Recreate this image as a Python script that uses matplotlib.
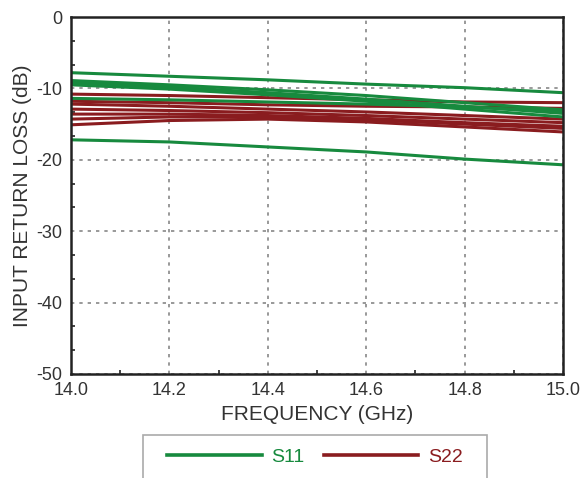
import matplotlib.pyplot as plt
from matplotlib.ticker import MultipleLocator
from matplotlib.patches import Rectangle
import numpy as np

plt.rcParams['font.family'] = ['Liberation Sans', 'DejaVu Sans']
plt.rcParams['axes.unicode_minus'] = False

# frequency points (GHz)
freq = [14.0, 14.2, 14.4, 14.6, 14.8, 15.0]

# S11 traces (dB)
s11_1 = [-7.8, -8.3, -8.8, -9.4, -9.9, -10.6]
s11_2 = [-8.9, -9.5, -10.2, -11.0, -12.0, -13.0]
s11_3 = [-9.2, -9.8, -10.6, -11.5, -12.5, -13.5]
s11_4 = [-9.5, -10.1, -10.9, -11.8, -12.9, -14.0]
s11_5 = [-11.4, -11.6, -11.9, -12.2, -12.6, -13.2]
s11_6 = [-17.2, -17.5, -18.2, -18.9, -19.9, -20.7]

# S22 traces (dB)
s22_1 = [-10.8, -11.0, -11.3, -11.6, -11.9, -12.0]
s22_2 = [-11.8, -12.0, -12.3, -12.5, -12.6, -12.8]
s22_3 = [-12.2, -12.5, -12.9, -13.3, -13.8, -14.3]
s22_4 = [-12.9, -13.1, -13.4, -13.8, -14.3, -14.8]
s22_5 = [-13.6, -13.6, -13.8, -14.2, -14.8, -15.3]
s22_6 = [-14.3, -14.0, -14.0, -14.4, -15.0, -15.6]
s22_7 = [-15.1, -14.5, -14.3, -14.7, -15.4, -16.1]

s11_all = [s11_1, s11_2, s11_3, s11_4, s11_5, s11_6]
s22_all = [s22_1, s22_2, s22_3, s22_4, s22_5, s22_6, s22_7]

green = '#178a3e'
red = '#8a1c1f'

fig = plt.figure(figsize=(5.87, 4.78), dpi=100)
ax = fig.add_axes([71/587, 1-374/478, 492/587, 357/478])

for i, tr in enumerate(s22_all):
    ax.plot(freq, tr, color=red, lw=2.2, label='S22' if i == 0 else None)
for i, tr in enumerate(s11_all):
    ax.plot(freq, tr, color=green, lw=2.2, label='S11' if i == 0 else None)

ax.set_xlim(14.0, 15.0)
ax.set_ylim(-50, 0)
ax.xaxis.set_major_locator(MultipleLocator(0.2))
ax.xaxis.set_minor_locator(MultipleLocator(0.1))
ax.yaxis.set_major_locator(MultipleLocator(10))
ax.yaxis.set_minor_locator(MultipleLocator(10/3))
ax.xaxis.set_major_formatter(plt.FormatStrFormatter('%.1f'))
ax.tick_params(which='both', direction='in', colors='#222222', labelcolor='#333333',
               labelsize=13, top=False, right=False)
ax.tick_params(axis='x', which='major', length=0, pad=6)
ax.tick_params(axis='y', which='major', length=0, pad=6)
ax.tick_params(which='minor', length=3, width=1.2)
ax.grid(True, which='major', color='#888888', linestyle=(0, (2, 3)), lw=1.2)
for sp in ax.spines.values():
    sp.set_linewidth(1.8)
    sp.set_color('#222222')

ax.set_xlabel('FREQUENCY (GHz)', fontsize=15, color='#333333', labelpad=4)
ax.set_ylabel('INPUT RETURN LOSS (dB)', fontsize=15, color='#333333', labelpad=3)

# legend box, runs off the bottom edge like the original
fig.patches.append(Rectangle((143/587, -0.02), 344/587, (478-435)/478 + 0.02,
                             transform=fig.transFigure, fill=False,
                             edgecolor='#aaaaaa', lw=1.2))

h, l = ax.get_legend_handles_labels()
order = [1, 0]
leg = fig.legend([h[k] for k in order], [l[k] for k in order], ncol=2,
                 loc='center', bbox_to_anchor=(315/587, 1-457/478),
                 borderaxespad=0, fontsize=14, handlelength=4.85, columnspacing=1.0,
                 handletextpad=0.5, borderpad=0, frameon=False)
for txt, c in zip(leg.get_texts(), [green, red]):
    txt.set_color(c)
for ln in leg.get_lines():
    ln.set_linewidth(2.6)

fig.savefig('out.png', dpi=100)
